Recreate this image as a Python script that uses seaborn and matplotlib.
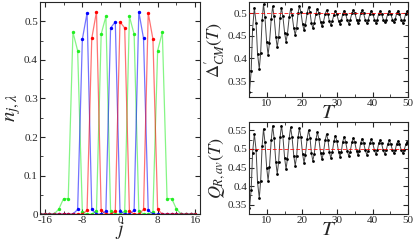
import matplotlib
matplotlib.use("Agg")
import matplotlib.pyplot as plt
from matplotlib.ticker import MultipleLocator
import seaborn as sns

# left panel: site densities n_{j,lambda}
j_sites = list(range(-17, 17))
n_green = [0, 0, 0, 0, 0.013, 0.04, 0.04, 0.472, 0.424, 0.005, 0, 0, 0.008, 0.467, 0.513, 0.008, 0,
           0, 0.008, 0.513, 0.467, 0.008, 0, 0, 0.005, 0.424, 0.472, 0.04, 0.04, 0.013, 0, 0, 0, 0]
n_blue = [0, 0, 0, 0, 0, 0, 0, 0, 0.012, 0.454, 0.522, 0.012, 0, 0, 0.008, 0.483, 0.499,
          0.008, 0, 0, 0.01, 0.525, 0.456, 0.01, 0, 0, 0, 0, 0, 0, 0, 0, 0, 0]
n_red = [0, 0, 0, 0, 0, 0, 0, 0, 0, 0, 0.01, 0.456, 0.525, 0.01, 0, 0, 0.008,
         0.499, 0.483, 0.008, 0, 0, 0.012, 0.522, 0.454, 0.012, 0, 0, 0, 0, 0, 0, 0, 0]

# right panels: time series
T = [5.0, 5.5, 5.9, 6.4, 6.9, 7.3, 7.8, 8.2, 8.6, 9.0, 9.4, 9.9, 10.3, 10.7, 11.2,
     11.6, 12.0, 12.5, 12.9, 13.3, 13.7, 14.1, 14.5, 15.0, 15.4, 15.8, 16.3, 16.7, 17.1, 17.6,
     18.0, 18.4, 18.8, 19.2, 19.6, 20.1, 20.5, 20.9, 21.4, 21.8, 22.2, 22.6, 23.0, 23.4, 23.9,
     24.3, 24.7, 25.2, 25.6, 26.0, 26.5, 26.9, 27.3, 27.7, 28.1, 28.5, 29.0, 29.4, 29.8, 30.3,
     30.7, 31.1, 31.5, 31.9, 32.3, 32.8, 33.2, 33.6, 34.1, 34.5, 34.9, 35.4, 35.8, 36.2, 36.6,
     37.0, 37.4, 37.9, 38.3, 38.7, 39.2, 39.6, 40.0, 40.5, 40.9, 41.3, 41.7, 42.1, 42.5, 43.0,
     43.4, 43.8, 44.3, 44.7, 45.1, 45.6, 46.0, 46.4, 46.8, 47.2, 47.6, 48.1, 48.5, 48.9, 49.4,
     49.8, 50.0]
delta_cm = [0.325, 0.372, 0.465, 0.512, 0.478, 0.411, 0.377, 0.413, 0.484, 0.52, 0.492, 0.436,
            0.408, 0.435, 0.488, 0.515, 0.493, 0.448, 0.425, 0.447, 0.49, 0.512, 0.493, 0.456,
            0.437, 0.455, 0.492, 0.51, 0.496, 0.467, 0.452, 0.468, 0.5, 0.516, 0.503, 0.476,
            0.462, 0.475, 0.501, 0.514, 0.502, 0.479, 0.467, 0.478, 0.499, 0.51, 0.5, 0.481,
            0.471, 0.48, 0.498, 0.507, 0.499, 0.482, 0.474, 0.482, 0.497, 0.505, 0.498, 0.483,
            0.476, 0.484, 0.499, 0.506, 0.499, 0.484, 0.477, 0.485, 0.5, 0.508, 0.501, 0.486,
            0.478, 0.485, 0.5, 0.507, 0.5, 0.485, 0.478, 0.485, 0.499, 0.506, 0.499, 0.486,
            0.479, 0.486, 0.499, 0.505, 0.499, 0.486, 0.48, 0.486, 0.499, 0.505, 0.499, 0.486,
            0.48, 0.487, 0.5, 0.506, 0.499, 0.486, 0.479, 0.486, 0.499, 0.505, 0.503]
q_rav = [0.34, 0.39, 0.49, 0.54, 0.497, 0.411, 0.368, 0.415, 0.508, 0.554, 0.519, 0.45,
         0.415, 0.452, 0.525, 0.562, 0.53, 0.465, 0.433, 0.466, 0.531, 0.563, 0.534, 0.475,
         0.446, 0.474, 0.53, 0.558, 0.532, 0.481, 0.455, 0.48, 0.531, 0.556, 0.533, 0.486,
         0.463, 0.485, 0.528, 0.55, 0.53, 0.489, 0.468, 0.487, 0.526, 0.545, 0.527, 0.49,
         0.472, 0.489, 0.523, 0.54, 0.524, 0.492, 0.476, 0.491, 0.521, 0.536, 0.522, 0.493,
         0.479, 0.493, 0.52, 0.533, 0.52, 0.494, 0.481, 0.493, 0.518, 0.53, 0.518, 0.495,
         0.483, 0.494, 0.517, 0.528, 0.517, 0.496, 0.485, 0.495, 0.516, 0.526, 0.516, 0.496,
         0.486, 0.496, 0.515, 0.524, 0.515, 0.496, 0.487, 0.496, 0.514, 0.523, 0.514, 0.497,
         0.488, 0.497, 0.514, 0.522, 0.514, 0.497, 0.489, 0.497, 0.512, 0.52, 0.515]

sns.set_style("ticks")
plt.rcParams['font.family'] = ['Liberation Serif', 'DejaVu Serif']
plt.rcParams['mathtext.fontset'] = 'stix'
plt.rcParams['xtick.direction'] = 'in'
plt.rcParams['ytick.direction'] = 'in'

fig = plt.figure(figsize=(4.15, 2.4), dpi=100)
ax1 = fig.add_axes([0.0964, 0.108, 0.3855, 0.883])
ax2 = fig.add_axes([0.601, 0.596, 0.382, 0.396])
ax3 = fig.add_axes([0.601, 0.108, 0.382, 0.383])

for vals, col in [(n_green, '#22ee22'), (n_blue, '#0000ff'), (n_red, '#ff0000')]:
    sns.lineplot(x=j_sites, y=vals, ax=ax1, color=col, linewidth=0.9, alpha=0.55)
    sns.scatterplot(x=j_sites, y=vals, ax=ax1, color=col, s=6, linewidth=0)

ax1.set_xlim(-17, 17)
ax1.set_ylim(0, 0.55)
ax1.xaxis.set_minor_locator(MultipleLocator(4))
ax1.yaxis.set_minor_locator(MultipleLocator(0.05))
ax1.set_yticks([0, 0.1, 0.2, 0.3, 0.4, 0.5])
ax1.set_yticklabels(['0', '0.1', '0.2', '0.3', '0.4', '0.5'])
ax1.set_xticks([-16, -8, 0, 8, 16])
ax1.set_xticklabels(['-16', '-8', '0', '8', '16'])
ax1.set_xlabel(r'$j$', fontsize=14, labelpad=-4)
ax1.set_ylabel(r'$n_{j,\lambda}$', fontsize=15, labelpad=1)

for ax, vals in [(ax2, delta_cm), (ax3, q_rav)]:
    sns.lineplot(x=T, y=vals, ax=ax, color='#444444', linewidth=0.7,
                 marker='o', markersize=2, markeredgewidth=0, markerfacecolor='black', zorder=2)
    ax.axhline(0.5, color='red', ls=(0, (4, 2)), lw=0.7, alpha=0.8, zorder=3)
    ax.set_xlim(5, 50)
    ax.xaxis.set_major_locator(MultipleLocator(10))
    ax.xaxis.set_minor_locator(MultipleLocator(5))
    ax.yaxis.set_minor_locator(MultipleLocator(0.025))
    ax.set_xlabel(r'$T$', fontsize=15, labelpad=-3)

ax2.set_ylim(0.315, 0.525)
ax2.set_yticks([0.35, 0.4, 0.45, 0.5])
ax2.set_yticklabels(['0.35', '0.4', '0.45', '0.5'])
ax2.set_ylabel(r"$\Delta^{\prime}_{CM}(T)$", fontsize=13, labelpad=1)

ax3.set_ylim(0.325, 0.572)
ax3.set_yticks([0.35, 0.4, 0.45, 0.5, 0.55])
ax3.set_yticklabels(['0.35', '0.4', '0.45', '0.5', '0.55'])
ax3.set_ylabel(r'$Q_{R,av}(T)$', fontsize=13, labelpad=1)

for ax in (ax1, ax2, ax3):
    ax.tick_params(which='both', top=True, right=True, labelsize=8, pad=1.5)
    ax.tick_params(which='major', length=3.5, width=0.8)
    ax.tick_params(which='minor', length=2, width=0.6)
    for s in ax.spines.values():
        s.set_linewidth(0.8)

fig.savefig('out.png', dpi=100)
